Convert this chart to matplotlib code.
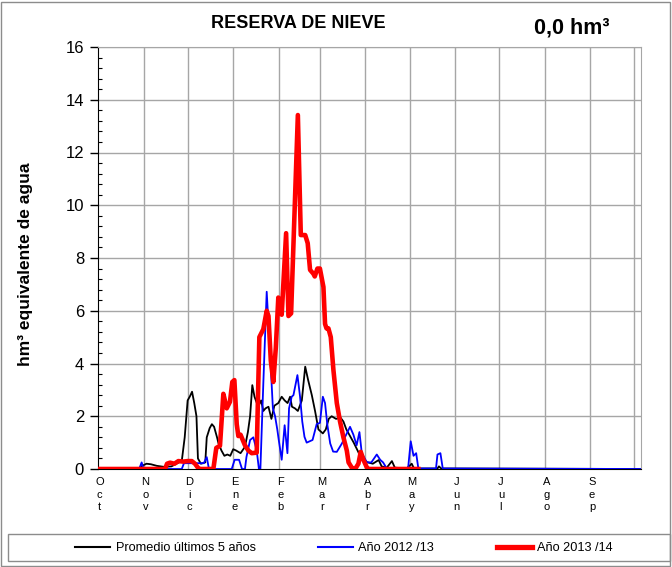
import matplotlib
matplotlib.use("Agg")
import matplotlib.pyplot as plt
from matplotlib.patches import Rectangle
from matplotlib.lines import Line2D
import numpy as np

plt.rcParams['font.family'] = ['Liberation Sans', 'DejaVu Sans']

# ---- data (day of hydrological year, starting 1 Oct) ----
month_labels = ["Oct", "Nov", "Dic", "Ene", "Feb", "Mar", "Abr", "May", "Jun", "Jul", "Ago", "Sep"]
month_days = [31, 30, 31, 31, 28, 31, 30, 31, 30, 31, 31, 30]

prom_day = [0, 28, 30, 33, 36, 40, 45, 50, 54, 57, 59, 61, 62.5, 64, 65.5, 67, 68, 70, 73, 74, 76, 77.5, 79,
            81, 82, 84, 86, 88, 90, 92, 94, 97, 100, 102, 103.5, 105, 106.5, 109, 111, 112.5, 114, 116, 118,
            120, 122.7, 125, 127, 129, 130.7, 132, 134, 136, 138.7, 141, 143, 145.5, 147.7, 150, 153, 155,
            157, 159, 162, 165, 167, 169, 172, 174, 177, 179, 183, 187, 191, 193, 196.5, 200, 202, 210,
            213.5, 215, 231, 232, 233.5, 369]
prom_val = [0, 0.02, 0.12, 0.2, 0.18, 0.12, 0.08, 0.1, 0.22, 0.3, 1.2, 2.6, 2.75, 2.93, 2.5, 2.0, 0.4, 0.2,
            0.25, 1.2, 1.55, 1.7, 1.6, 1.2, 0.97, 0.7, 0.5, 0.55, 0.5, 0.75, 0.7, 0.6, 0.84, 1.4, 2.0, 3.18,
            2.74, 2.36, 2.6, 2.2, 2.3, 2.36, 1.9, 2.4, 2.5, 2.74, 2.6, 2.5, 2.74, 2.36, 2.3, 2.2, 2.6, 3.88,
            3.37, 2.8, 2.2, 1.5, 1.35, 1.5, 1.9, 2.0, 1.9, 1.95, 1.8, 1.5, 1.2, 1.0, 0.66, 0.4, 0.26, 0.2,
            0.34, 0.1, 0.05, 0.3, 0.05, 0.02, 0.2, 0.02, 0.02, 0.1, 0.02, 0]

y1213_day = [0, 28, 29.7, 31, 57, 58.5, 72, 74, 75.5, 91, 93, 96, 98, 100, 101, 103.5, 105.7, 108, 109.5,
             110.5, 112.5, 114.8, 117, 119, 120.5, 122, 123, 125, 127, 128.9, 130, 131.8, 133, 135.7, 137.5,
             139, 140.5, 142, 144, 146, 148.8, 151, 153, 154.5, 156, 158, 160, 162.5, 166, 169.3, 171.5,
             173.8, 176, 177.9, 179.5, 183, 186, 189.7, 192, 194, 196.5, 211, 212.8, 214.7, 216.5, 218,
             230, 231, 233, 234.6, 369]
y1213_val = [0, 0, 0.25, 0, 0, 0.22, 0.22, 0.45, 0, 0, 0.35, 0.35, 0, 0, 0.45, 1.1, 1.2, 0.7, 0, 0, 3.25,
             6.72, 4.5, 2.3, 2.0, 1.5, 1.1, 0.35, 1.66, 0.6, 2.3, 2.74, 2.8, 3.56, 2.74, 1.8, 1.22, 1.0, 1.05,
             1.1, 1.7, 1.75, 2.74, 2.5, 1.7, 0.97, 0.66, 0.65, 0.97, 1.35, 1.6, 1.3, 0.9, 1.4, 0.6, 0.25,
             0.25, 0.55, 0.35, 0.25, 0.02, 0.02, 1.05, 0.5, 0.6, 0.02, 0.02, 0.55, 0.6, 0.02, 0]

y1314_day = [0, 45.6, 47, 49, 52, 54.7, 58, 61, 63.8, 66, 68, 69.4, 78.5, 80.5, 83, 85.3, 87.6, 89.8, 91.4,
             92.8, 94.4, 95.5, 97, 100, 102.3, 104.6, 108, 109.8, 112.5, 114.8, 116, 117.6, 119.3, 121,
             122.7, 125, 128, 129.6, 131.4, 136, 137.5, 138, 141, 142.7, 144.3, 146.6, 147.5, 149.3, 151,
             153.4, 154.5, 155.5, 156.8, 158.4, 160.2, 162.5, 164.7, 167, 169.3, 170.5, 172.7, 175, 177.2,
             178.8, 180.6, 183, 184, 218]
y1314_val = [0, 0, 0.2, 0.24, 0.2, 0.3, 0.28, 0.3, 0.3, 0.2, 0.05, 0, 0, 0.8, 0.88, 2.85, 2.3, 2.55, 3.3,
             3.37, 1.7, 1.25, 1.3, 0.9, 0.7, 0.6, 0.62, 5.0, 5.3, 6.0, 5.8, 4.1, 3.3, 4.6, 6.5, 5.85, 8.94,
             5.8, 5.9, 13.42, 10.0, 8.87, 8.87, 8.56, 7.55, 7.4, 7.3, 7.6, 7.6, 6.9, 5.5, 5.33, 5.33, 5.0,
             3.75, 2.5, 1.8, 1.2, 0.7, 0.25, 0.05, 0, 0.2, 0.65, 0.35, 0.05, 0, 0]

series_labels = ["Promedio últimos 5 años", "Año 2012 /13", "Año 2013 /14"]
title = "RESERVA DE NIEVE"
current_value = "0,0 hm³"
ylabel = "hm³ equivalente de agua"

# ---- figure ----
W, H = 672, 567
fig = plt.figure(figsize=(W / 100, H / 100), dpi=100)
ax = fig.add_axes([98 / W, 1 - 469 / H, (641 - 98) / W, (469 - 47) / H])

month_start = np.concatenate([[0], np.cumsum(month_days)])
for d in month_start[1:]:
    ax.axvline(d, color="#a6a6a6", lw=1.0, zorder=0)
for v in range(2, 17, 2):
    ax.axhline(v, color="#a6a6a6", lw=1.0, zorder=0)

ax.plot(prom_day, prom_val, color="black", lw=1.3, zorder=3)
ax.plot(y1213_day, y1213_val, color="#0000ff", lw=1.3, zorder=4)
ax.plot(y1314_day, y1314_val, color="#ff0000", lw=3.3, zorder=5, solid_joinstyle="round")

ax.set_xlim(0, 369.5)
ax.set_ylim(0, 16)
ax.set_yticks(np.arange(0, 17, 2))
ax.set_yticks(np.arange(0, 16.01, 0.4), minor=True)
ax.tick_params(axis="y", which="major", direction="out", length=6, labelsize=12, width=1, pad=4)
ax.tick_params(axis="y", which="minor", direction="in", length=3, width=0.8)

ax.set_xticks(month_start[:-1] + 1.2)
ax.set_xticklabels(["\n".join(m) for m in month_labels], fontsize=8, linespacing=1.32)
ax.tick_params(axis="x", which="major", direction="out", length=0, pad=6)

for s in ["top", "right"]:
    ax.spines[s].set_color("#a6a6a6")
ax.spines["left"].set_color("black")
ax.spines["bottom"].set_color("black")

fig.text(298 / W, 1 - 24 / H, title, ha="center", va="center", fontsize=13, fontweight="bold")
fig.text(572 / W, 1 - 28 / H, current_value, ha="center", va="center", fontsize=15.5, fontweight="bold")
fig.text(26 / W, 1 - 264 / H, ylabel, ha="center", va="center", rotation=90, fontsize=12.5, fontweight="bold")

# outer frame and legend box
fig.patches.append(Rectangle((1 / W, 1 / H), 669 / W, 564 / H, transform=fig.transFigure,
                             fill=False, edgecolor="#8c8c8c", lw=1))
fig.patches.append(Rectangle((8 / W, 1 - 561 / H), 662 / W, 27 / H, transform=fig.transFigure,
                             fill=False, edgecolor="#8c8c8c", lw=1))

handles = [Line2D([], [], color="black", lw=1.5),
           Line2D([], [], color="#0000ff", lw=1.5),
           Line2D([], [], color="#ff0000", lw=3.8)]
fig.legend(handles, series_labels, loc="center", bbox_to_anchor=(344 / W, 1 - 548 / H), ncol=3,
           frameon=False, fontsize=9.2, handlelength=2.75, handletextpad=0.4, columnspacing=4.9)

fig.savefig("out.png", dpi=100)
